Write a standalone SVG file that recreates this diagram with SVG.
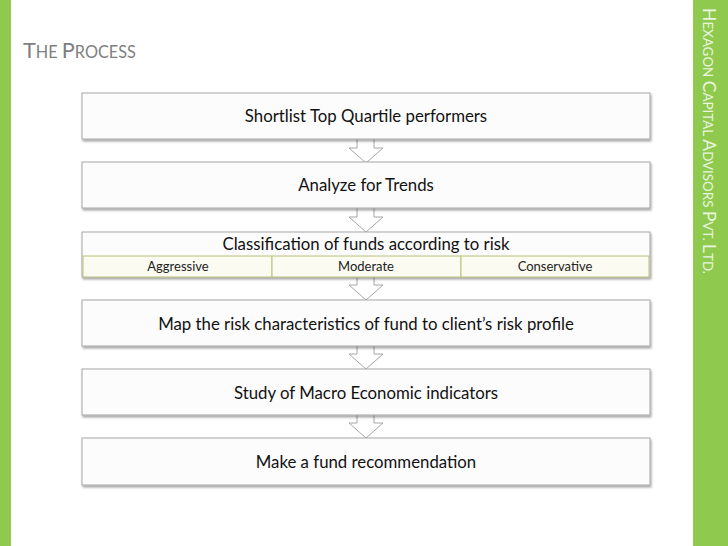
<svg xmlns="http://www.w3.org/2000/svg" width="728" height="546" viewBox="0 0 728 546">
<style>
.box{fill:#fcfcfc;stroke:#a6a6a6;stroke-width:1}
.lbl{font-family:Lato,"Open Sans",sans-serif;font-size:16.8px;fill:#111;text-anchor:middle}
.sub{font-family:Lato,"Open Sans",sans-serif;font-size:13px;fill:#222;text-anchor:middle}
.cell{fill:#fbfbf1;stroke:#b9c27f;stroke-width:1}
.arrow{fill:#ffffff;stroke:#a6a6a6;stroke-width:1}
.side{fill:#8fca4f}
</style>
<defs>
<filter id="sh" x="-5%" y="-20%" width="110%" height="150%">
<feDropShadow dx="1" dy="2" stdDeviation="1.2" flood-color="#000" flood-opacity="0.35"/>
</filter>
</defs>
<rect width="728" height="546" fill="#ffffff"/>
<rect class="side" x="0" y="0" width="11" height="546"/>
<rect class="side" x="693" y="0" width="35" height="546"/>
<text transform="translate(703,8) rotate(90)" font-family="Lato,'Open Sans',sans-serif" fill="#eaf5df"><tspan font-size="17.5">H</tspan><tspan font-size="13.4">EXAGON </tspan><tspan font-size="17.5">C</tspan><tspan font-size="13.4">APITAL </tspan><tspan font-size="17.5">A</tspan><tspan font-size="13.4">DVISORS </tspan><tspan font-size="17.5">P</tspan><tspan font-size="13.4">VT. </tspan><tspan font-size="17.5">L</tspan><tspan font-size="13.4">TD.</tspan></text>
<text x="23" y="58" font-family="Lato,'Open Sans',sans-serif" fill="#7f7f7f"><tspan font-size="21.7">T</tspan><tspan font-size="16.3">HE </tspan><tspan font-size="21.7">P</tspan><tspan font-size="16.3">ROCESS</tspan></text>
<g id="connectors">
<polygon class="arrow" points="357,136 374,136 374,148 383,148 366,163 349,148 357,148"/>
<polygon class="arrow" points="357,205 374,205 374,217 383,217 366,232 349,217 357,217"/>
<polygon class="arrow" points="357,274 374,274 374,285 383,285 366,300 349,285 357,285"/>
<polygon class="arrow" points="357,343 374,343 374,354 383,354 366,369 349,354 357,354"/>
<polygon class="arrow" points="357,412 374,412 374,423 383,423 366,438 349,423 357,423"/>
</g>
<g id="n1"><rect class="box" filter="url(#sh)" x="82" y="93" width="568" height="46"/><text class="lbl" x="366" y="122">Shortlist Top Quartile performers</text></g>
<g id="n2"><rect class="box" filter="url(#sh)" x="82" y="162" width="568" height="46"/><text class="lbl" x="366" y="191">Analyze for Trends</text></g>
<g id="n3"><rect class="box" filter="url(#sh)" x="82" y="232" width="568" height="45"/><text class="lbl" x="366" y="250">Classification of funds according to risk</text>
<rect class="cell" x="83" y="256" width="189" height="21"/><rect class="cell" x="272" y="256" width="189" height="21"/><rect class="cell" x="461" y="256" width="188" height="21"/>
<text class="sub" x="178" y="271">Aggressive</text><text class="sub" x="366" y="271">Moderate</text><text class="sub" x="555" y="271">Conservative</text></g>
<g id="n4"><rect class="box" filter="url(#sh)" x="82" y="300" width="568" height="46"/><text class="lbl" x="366" y="330">Map the risk characteristics of fund to client’s risk profile</text></g>
<g id="n5"><rect class="box" filter="url(#sh)" x="82" y="369" width="568" height="46"/><text class="lbl" x="366" y="399">Study of Macro Economic indicators</text></g>
<g id="n6"><rect class="box" filter="url(#sh)" x="82" y="438" width="568" height="47"/><text class="lbl" x="366" y="468">Make a fund recommendation</text></g>
</svg>
